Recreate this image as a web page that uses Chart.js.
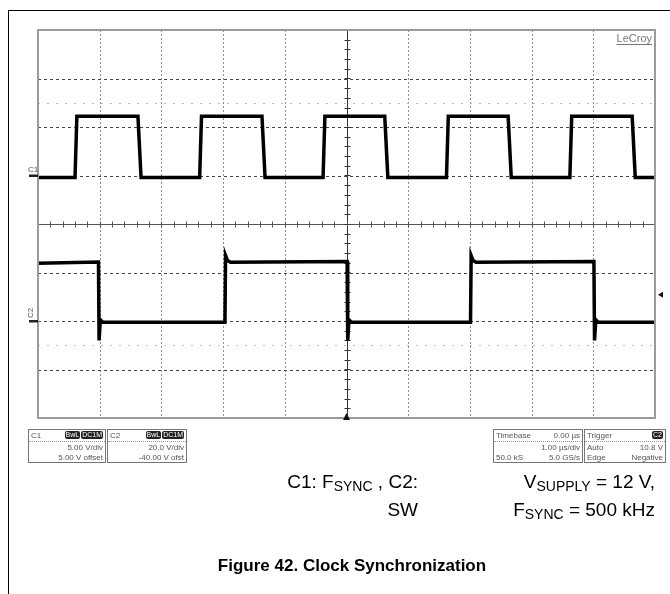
<!DOCTYPE html>
<html>
<head>
<meta charset="utf-8">
<script src="https://cdn.jsdelivr.net/npm/chart.js@4.4.0/dist/chart.umd.min.js"></script>
<style>
  html, body { margin: 0; padding: 0; background: #fff; }
  #wrap { position: relative; width: 670px; height: 594px; overflow: hidden;
    font-family: "Liberation Sans", Arial, sans-serif; }
  #scope { position: absolute; left: 0; top: 0; }
  .frame { position: absolute; left: 8px; top: 10px; width: 700px; height: 600px;
    border-left: 1.5px solid #000; border-top: 1.5px solid #000; }
  .box { position: absolute; top: 429px; height: 34px; border: 1px solid #777;
    font-size: 8px; color: #555; line-height: 11px; box-sizing: border-box; }
  .row { display: flex; justify-content: space-between; padding: 0 2px; height: 10.6px; }
  .row.head { border-bottom: 1px dotted #999; }
  .badge { background: #222; color: #fff; border-radius: 2px; padding: 0 1px; margin-left: 1px;
    font-size: 7px; line-height: 8px; height: 8px; margin-top: 1px; }
  .cap { position: absolute; font-size: 19px; color: #000; white-space: nowrap; text-align: right; }
  .cap sub { font-size: 14px; vertical-align: -3px; line-height: 0; }
  .title { position: absolute; left: 0; width: 704px; top: 556px; text-align: center;
    font-weight: bold; font-size: 17px; }
</style>
</head>
<body>
<div id="wrap">
  <div class="frame"></div>
  <canvas id="scope" width="670" height="594"></canvas>

  <div class="box" style="left:28px;width:78px;">
    <div class="row head"><span>C1</span><span style="display:flex"><span class="badge">BwL</span><span class="badge">DC1M</span></span></div>
    <div class="row"><span></span><span>5.00 V/div</span></div>
    <div class="row"><span></span><span>5.00 V offset</span></div>
  </div>
  <div class="box" style="left:107px;width:80px;">
    <div class="row head"><span>C2</span><span style="display:flex"><span class="badge">BwL</span><span class="badge">DC1M</span></span></div>
    <div class="row"><span></span><span>20.0 V/div</span></div>
    <div class="row"><span></span><span>-40.00 V ofst</span></div>
  </div>
  <div class="box" style="left:493px;width:90px;">
    <div class="row head"><span>Timebase</span><span>0.00 µs</span></div>
    <div class="row"><span></span><span>1.00 µs/div</span></div>
    <div class="row"><span>50.0 kS</span><span>5.0 GS/s</span></div>
  </div>
  <div class="box" style="left:584px;width:82px;">
    <div class="row head"><span>Trigger</span><span class="badge">C2</span></div>
    <div class="row"><span>Auto</span><span>10.8 V</span></div>
    <div class="row"><span>Edge</span><span>Negative</span></div>
  </div>

  <div class="cap" style="right:252px;top:471px;">C1: F<sub>SYNC</sub> , C2:</div>
  <div class="cap" style="right:252px;top:499px;">SW</div>
  <div class="cap" style="right:15px;top:471px;">V<sub>SUPPLY</sub> = 12 V,</div>
  <div class="cap" style="right:15px;top:499px;">F<sub>SYNC</sub> = 500 kHz</div>
  <div class="title">Figure 42. Clock Synchronization</div>
</div>

<script>
// Time base: 1 µs/div, 10 divisions, trigger at centre
const timeMin = -5;
const timeMax = 5;

// C1 (F_SYNC), 5 V/div, 5 V offset
const c1Scale = 5;
const c1Offset = 5;
const c1Time = [-5, -4.40, -4.37, -3.38, -3.33, -2.38, -2.35, -1.37, -1.32, -0.38, -0.35,
  0.62, 0.67, 1.62, 1.65, 2.62, 2.67, 3.62, 3.65, 4.63, 4.68, 5];
const c1Volt = [-0.2, -0.2, 6.1, 6.1, -0.2, -0.2, 6.1, 6.1, -0.2, -0.2, 6.1,
  6.1, -0.2, -0.2, 6.1, 6.1, -0.2, -0.2, 6.1, 6.1, -0.2, -0.2];

// C2 (SW), 20 V/div, -40 V offset
const c2Scale = 20;
const c2Offset = -40;
const c2Time = [-5, -4.02, -4.01, -3.99, -3.95, -1.97, -1.96, -1.93, -1.88, 0.01, 0.02,
  0.04, 0.08, 2.01, 2.02, 2.05, 2.10, 4.01, 4.02, 4.04, 4.08, 5];
const c2Volt = [23.8, 24.3, -8, 0.5, -0.5, -0.5, 27, 25, 24.2, 24.5, -8,
  0.5, -0.5, -0.5, 27, 25, 24.2, 24.5, -8, 0.5, -0.5, -0.5];

// Trigger: C2, negative edge at 10.8 V
const trigLevel = 10.8;

const toDiv = (v, scale, offset) => (v + offset) / scale;
const c1Points = c1Time.map((t, i) => ({ x: t, y: toDiv(c1Volt[i], c1Scale, c1Offset) }));
const c2Points = c2Time.map((t, i) => ({ x: t, y: toDiv(c2Volt[i], c2Scale, c2Offset) }));

// Graticule, centre axes and channel markers
const scopePlugin = {
  id: 'scope',
  beforeDatasetsDraw(chart) {
    const { ctx, chartArea: a, scales: { x, y } } = chart;
    ctx.save();
    ctx.lineWidth = 1;
    // vertical divisions
    ctx.strokeStyle = '#8c8c8c';
    ctx.setLineDash([2, 2]);
    for (let t = -4; t <= 4; t++) {
      if (t === 0) continue;
      const px = Math.round(x.getPixelForValue(t)) + 0.5;
      ctx.beginPath(); ctx.moveTo(px, a.top); ctx.lineTo(px, a.bottom); ctx.stroke();
    }
    // horizontal divisions
    ctx.strokeStyle = '#444';
    ctx.setLineDash([3, 3]);
    for (let d = -3; d <= 3; d++) {
      if (d === 0) continue;
      const py = Math.round(y.getPixelForValue(d)) + 0.5;
      ctx.beginPath(); ctx.moveTo(a.left, py); ctx.lineTo(a.right, py); ctx.stroke();
    }
    // faint half-division rows
    ctx.strokeStyle = '#bbb';
    ctx.setLineDash([2, 7]);
    [2.5, -2.5].forEach((d) => {
      const py = Math.round(y.getPixelForValue(d)) + 0.5;
      ctx.beginPath(); ctx.moveTo(a.left, py); ctx.lineTo(a.right, py); ctx.stroke();
    });
    ctx.setLineDash([]);
    // centre axes with minor ticks
    const cx = Math.round(x.getPixelForValue(0)) + 0.5;
    const cy = Math.round(y.getPixelForValue(0)) + 0.5;
    ctx.strokeStyle = '#333';
    ctx.beginPath(); ctx.moveTo(cx, a.top); ctx.lineTo(cx, a.bottom); ctx.stroke();
    ctx.strokeStyle = '#555';
    ctx.beginPath(); ctx.moveTo(a.left, cy); ctx.lineTo(a.right, cy); ctx.stroke();
    for (let d = -4; d <= 4.001; d += 0.2) {
      const py = Math.round(y.getPixelForValue(d)) + 0.5;
      ctx.strokeStyle = '#333';
      ctx.beginPath(); ctx.moveTo(cx - 3, py); ctx.lineTo(cx + 3, py); ctx.stroke();
    }
    for (let t = -5; t <= 5.001; t += 0.2) {
      const px = Math.round(x.getPixelForValue(t)) + 0.5;
      ctx.strokeStyle = '#555';
      ctx.beginPath(); ctx.moveTo(px, cy - 3); ctx.lineTo(px, cy + 3); ctx.stroke();
    }
    ctx.restore();
  },
  afterDatasetsDraw(chart) {
    const { ctx, chartArea: a, scales: { x, y } } = chart;
    ctx.save();
    // frame
    ctx.strokeStyle = '#9a9a9a';
    ctx.lineWidth = 2;
    ctx.strokeRect(a.left, a.top, a.right - a.left, a.bottom - a.top);
    // channel ground markers
    ctx.fillStyle = '#222';
    ctx.font = '8px "Liberation Sans", Arial, sans-serif';
    const g1 = y.getPixelForValue(toDiv(0, c1Scale, c1Offset));
    const g2 = y.getPixelForValue(toDiv(0, c2Scale, c2Offset));
    ctx.fillRect(a.left - 9, g1 - 1, 9, 2.5);
    ctx.fillRect(a.left - 9, g2 - 1, 9, 2.5);
    ctx.fillStyle = '#555';
    ctx.textBaseline = 'bottom';
    ctx.fillText('C1', a.left - 10, g1 - 2);
    ctx.save();
    ctx.translate(a.left - 3, g2 - 3);
    ctx.rotate(-Math.PI / 2);
    ctx.fillText('C2', 0, 0);
    ctx.restore();
    // trigger level arrow (right) and trigger position arrow (bottom)
    const ty = y.getPixelForValue(toDiv(trigLevel, c2Scale, c2Offset));
    ctx.fillStyle = '#111';
    ctx.beginPath();
    ctx.moveTo(a.right + 3, ty); ctx.lineTo(a.right + 8, ty - 3); ctx.lineTo(a.right + 8, ty + 3);
    ctx.fill();
    const tx = x.getPixelForValue(0);
    ctx.beginPath();
    ctx.moveTo(tx, a.bottom - 5); ctx.lineTo(tx - 3.5, a.bottom + 2); ctx.lineTo(tx + 3.5, a.bottom + 2);
    ctx.fill();
    // LeCroy logo
    ctx.fillStyle = '#777';
    ctx.font = '11px "Liberation Sans", Arial, sans-serif';
    ctx.textAlign = 'right';
    ctx.textBaseline = 'alphabetic';
    ctx.fillText('LeCroy', a.right - 3, a.top + 12);
    const w = ctx.measureText('LeCroy').width;
    ctx.fillRect(a.right - 3 - w, a.top + 14, w, 1);
    ctx.restore();
  },
};

new Chart(document.getElementById('scope'), {
  type: 'line',
  data: {
    datasets: [
      { label: 'C1', data: c1Points, borderColor: '#000', borderWidth: 3.5, pointRadius: 0, tension: 0 },
      { label: 'C2', data: c2Points, borderColor: '#000', borderWidth: 3.5, pointRadius: 0, tension: 0 },
    ],
  },
  options: {
    responsive: false,
    animation: false,
    layout: { padding: { left: 38, right: 15, top: 30, bottom: 176 } },
    scales: {
      x: { type: 'linear', min: timeMin, max: timeMax, display: false },
      y: { type: 'linear', min: -4, max: 4, display: false },
    },
    plugins: { legend: { display: false }, tooltip: { enabled: false } },
  },
  plugins: [scopePlugin],
});
</script>
</body>
</html>
